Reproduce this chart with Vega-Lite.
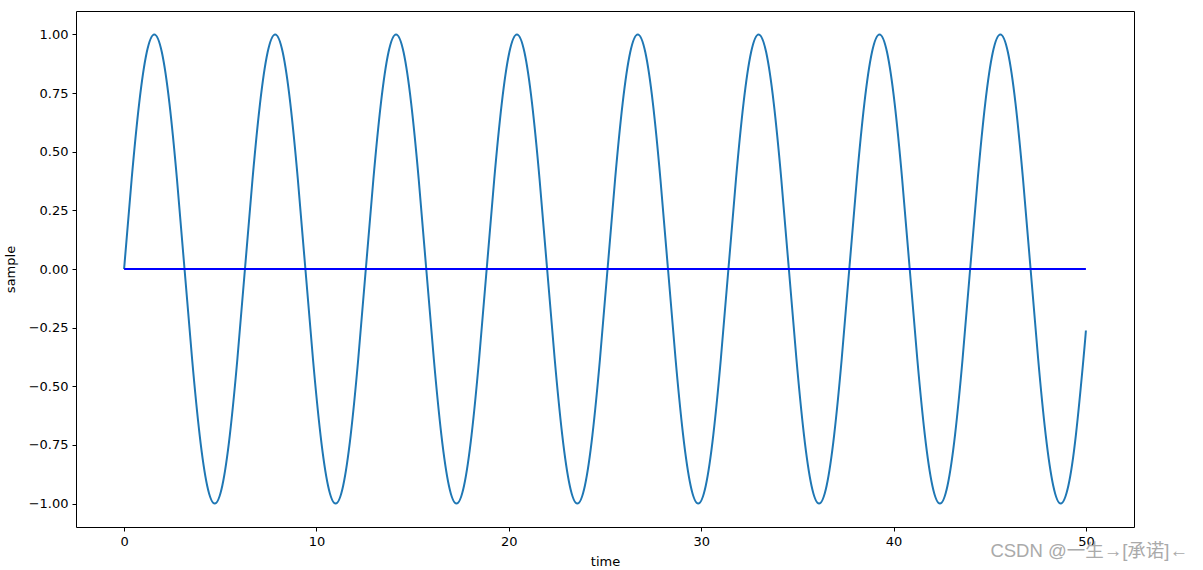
{
  "$schema": "https://vega.github.io/schema/vega-lite/v6.json",
  "width": 1058,
  "height": 516,
  "autosize": {"type": "none"},
  "padding": {"left": 76, "top": 11, "right": 69, "bottom": 43},
  "background": "white",
  "config": {
    "view": {"stroke": "black", "strokeWidth": 1},
    "font": "DejaVu Sans",
    "axis": {
      "grid": false,
      "domain": false,
      "tickColor": "black",
      "tickSize": 4,
      "labelColor": "black",
      "labelFontSize": 13,
      "labelFont": "DejaVu Sans",
      "titleFont": "DejaVu Sans",
      "titleFontSize": 13,
      "titleFontWeight": "normal",
      "titleColor": "black",
      "labelPadding": 4
    }
  },
  "title": {
    "text": "CSDN @一生→[承诺]←",
    "orient": "bottom",
    "anchor": "end",
    "color": "#aaaaaa",
    "fontSize": 18.5,
    "fontWeight": "normal",
    "font": "Liberation Sans, Noto Sans CJK SC",
    "dx": 54,
    "dy": -30
  },
  "datasets": {
    "wave": [
      {"t": 0, "y": 0}, {"t": 0.3927, "y": 0.3827}, {"t": 0.7854, "y": 0.7071}, {"t": 1.1781, "y": 0.9239},
      {"t": 1.5708, "y": 1}, {"t": 1.9635, "y": 0.9239}, {"t": 2.3562, "y": 0.7071}, {"t": 2.7489, "y": 0.3827},
      {"t": 3.1416, "y": 0}, {"t": 3.5343, "y": -0.3827}, {"t": 3.927, "y": -0.7071}, {"t": 4.3197, "y": -0.9239},
      {"t": 4.7124, "y": -1}, {"t": 5.1051, "y": -0.9239}, {"t": 5.4978, "y": -0.7071}, {"t": 5.8905, "y": -0.3827},
      {"t": 6.2832, "y": 0}, {"t": 6.6759, "y": 0.3827}, {"t": 7.0686, "y": 0.7071}, {"t": 7.4613, "y": 0.9239},
      {"t": 7.854, "y": 1}, {"t": 8.2467, "y": 0.9239}, {"t": 8.6394, "y": 0.7071}, {"t": 9.0321, "y": 0.3827},
      {"t": 9.4248, "y": 0}, {"t": 9.8175, "y": -0.3827}, {"t": 10.2102, "y": -0.7071}, {"t": 10.6029, "y": -0.9239},
      {"t": 10.9956, "y": -1}, {"t": 11.3883, "y": -0.9239}, {"t": 11.781, "y": -0.7071}, {"t": 12.1737, "y": -0.3827},
      {"t": 12.5664, "y": 0}, {"t": 12.9591, "y": 0.3827}, {"t": 13.3518, "y": 0.7071}, {"t": 13.7445, "y": 0.9239},
      {"t": 14.1372, "y": 1}, {"t": 14.5299, "y": 0.9239}, {"t": 14.9226, "y": 0.7071}, {"t": 15.3153, "y": 0.3827},
      {"t": 15.708, "y": 0}, {"t": 16.1007, "y": -0.3827}, {"t": 16.4934, "y": -0.7071}, {"t": 16.8861, "y": -0.9239},
      {"t": 17.2788, "y": -1}, {"t": 17.6715, "y": -0.9239}, {"t": 18.0642, "y": -0.7071}, {"t": 18.4569, "y": -0.3827},
      {"t": 18.8496, "y": 0}, {"t": 19.2423, "y": 0.3827}, {"t": 19.635, "y": 0.7071}, {"t": 20.0277, "y": 0.9239},
      {"t": 20.4204, "y": 1}, {"t": 20.8131, "y": 0.9239}, {"t": 21.2058, "y": 0.7071}, {"t": 21.5984, "y": 0.3827},
      {"t": 21.9911, "y": 0}, {"t": 22.3838, "y": -0.3827}, {"t": 22.7765, "y": -0.7071}, {"t": 23.1692, "y": -0.9239},
      {"t": 23.5619, "y": -1}, {"t": 23.9546, "y": -0.9239}, {"t": 24.3473, "y": -0.7071}, {"t": 24.74, "y": -0.3827},
      {"t": 25.1327, "y": 0}, {"t": 25.5254, "y": 0.3827}, {"t": 25.9181, "y": 0.7071}, {"t": 26.3108, "y": 0.9239},
      {"t": 26.7035, "y": 1}, {"t": 27.0962, "y": 0.9239}, {"t": 27.4889, "y": 0.7071}, {"t": 27.8816, "y": 0.3827},
      {"t": 28.2743, "y": 0}, {"t": 28.667, "y": -0.3827}, {"t": 29.0597, "y": -0.7071}, {"t": 29.4524, "y": -0.9239},
      {"t": 29.8451, "y": -1}, {"t": 30.2378, "y": -0.9239}, {"t": 30.6305, "y": -0.7071}, {"t": 31.0232, "y": -0.3827},
      {"t": 31.4159, "y": 0}, {"t": 31.8086, "y": 0.3827}, {"t": 32.2013, "y": 0.7071}, {"t": 32.594, "y": 0.9239},
      {"t": 32.9867, "y": 1}, {"t": 33.3794, "y": 0.9239}, {"t": 33.7721, "y": 0.7071}, {"t": 34.1648, "y": 0.3827},
      {"t": 34.5575, "y": 0}, {"t": 34.9502, "y": -0.3827}, {"t": 35.3429, "y": -0.7071}, {"t": 35.7356, "y": -0.9239},
      {"t": 36.1283, "y": -1}, {"t": 36.521, "y": -0.9239}, {"t": 36.9137, "y": -0.7071}, {"t": 37.3064, "y": -0.3827},
      {"t": 37.6991, "y": 0}, {"t": 38.0918, "y": 0.3827}, {"t": 38.4845, "y": 0.7071}, {"t": 38.8772, "y": 0.9239},
      {"t": 39.2699, "y": 1}, {"t": 39.6626, "y": 0.9239}, {"t": 40.0553, "y": 0.7071}, {"t": 40.448, "y": 0.3827},
      {"t": 40.8407, "y": 0}, {"t": 41.2334, "y": -0.3827}, {"t": 41.6261, "y": -0.7071}, {"t": 42.0188, "y": -0.9239},
      {"t": 42.4115, "y": -1}, {"t": 42.8042, "y": -0.9239}, {"t": 43.1969, "y": -0.7071}, {"t": 43.5896, "y": -0.3827},
      {"t": 43.9823, "y": 0}, {"t": 44.375, "y": 0.3827}, {"t": 44.7677, "y": 0.7071}, {"t": 45.1604, "y": 0.9239},
      {"t": 45.5531, "y": 1}, {"t": 45.9458, "y": 0.9239}, {"t": 46.3385, "y": 0.7071}, {"t": 46.7312, "y": 0.3827},
      {"t": 47.1239, "y": 0}, {"t": 47.5166, "y": -0.3827}, {"t": 47.9093, "y": -0.7071}, {"t": 48.302, "y": -0.9239},
      {"t": 48.6947, "y": -1}, {"t": 49.0874, "y": -0.9239}, {"t": 49.4801, "y": -0.7071}, {"t": 49.8728, "y": -0.3827},
      {"t": 50, "y": -0.2624}
    ],
    "zero": [{"t": 0, "y": 0}, {"t": 50, "y": 0}]
  },
  "layer": [
    {
      "data": {"name": "wave"},
      "mark": {"type": "line", "color": "#1f77b4", "strokeWidth": 2, "interpolate": "natural"},
      "encoding": {
        "x": {"field": "t", "type": "quantitative", "title": "time",
              "scale": {"domain": [-2.5, 52.5], "nice": false, "zero": false},
              "axis": {"values": [0, 10, 20, 30, 40, 50], "titlePadding": 7}},
        "y": {"field": "y", "type": "quantitative", "title": "sample",
              "scale": {"domain": [-1.1, 1.1], "nice": false, "zero": false},
              "axis": {"values": [-1, -0.75, -0.5, -0.25, 0, 0.25, 0.5, 0.75, 1], "format": ".2f", "titlePadding": 11}}
      }
    },
    {
      "data": {"name": "zero"},
      "mark": {"type": "line", "color": "#0000ff", "strokeWidth": 2},
      "encoding": {
        "x": {"field": "t", "type": "quantitative"},
        "y": {"field": "y", "type": "quantitative"}
      }
    }
  ]
}
